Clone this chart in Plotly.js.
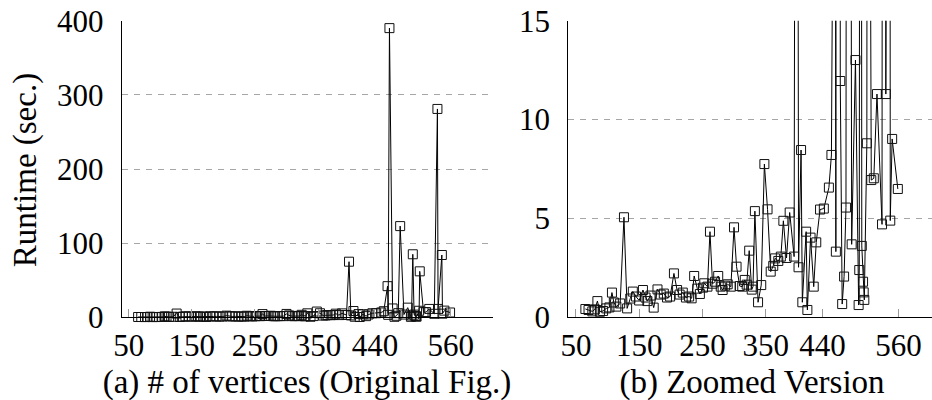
<!DOCTYPE html>
<html>
<head>
<meta charset="utf-8">
<script src="https://cdn.plot.ly/plotly-3.0.1.min.js"></script>
<style>
  html, body { margin: 0; padding: 0; background: #ffffff; }
  #wrap { position: relative; width: 932px; height: 400px; }
  #chart { position: absolute; left: 0; top: 0; width: 932px; height: 400px; }
  .cap { position: absolute; font-family: "Liberation Serif"; font-size: 33px; color: #000; white-space: nowrap; line-height: 1; }
</style>
</head>
<body>
<div id="wrap">
  <div id="chart"></div>
  <div class="cap" id="ylab"></div>
  <div class="cap" id="capA"></div>
  <div class="cap" id="capB"></div>
</div>
<script>
// Number of vertices (x) and runtime in seconds (y)
const vertices = [65, 70, 76, 80, 84, 88, 93, 98, 103, 107, 110, 114, 120, 126, 131, 136, 140, 145, 150, 156,
  160, 163, 168, 173, 179, 184, 189, 194, 199, 205, 210, 214, 219, 224, 229, 233, 237, 242, 246, 251,
  253, 258, 262, 266, 270, 275, 279, 282, 286, 290, 295, 300, 304, 309, 313, 317, 320, 324, 328, 330,
  333, 338, 343, 348, 353, 358, 362, 365, 370, 374, 378, 383, 388, 395, 399, 402, 406, 408, 414, 416,
  421, 426, 430, 436, 442, 450, 454, 460, 461, 463, 468, 471, 474, 477, 480, 486, 492, 497, 498, 500,
  502, 504, 505, 506, 510, 511, 517, 521, 526, 534, 539, 540, 546, 547, 550, 559];
const runtime = [0.42, 0.37, 0.30, 0.40, 0.82, 0.28, 0.32, 0.45, 0.50, 1.25, 0.75, 0.54, 0.70, 5.06, 0.45, 0.95, 1.30, 1.05, 0.85, 1.38,
  1.00, 0.82, 1.10, 0.49, 1.41, 1.15, 1.20, 1.00, 1.05, 2.22, 1.38, 1.15, 1.25, 1.00, 1.05, 0.96, 2.09, 1.45, 1.18, 1.50,
  1.72, 1.55, 4.33, 1.70, 1.80, 2.09, 1.55, 1.38, 1.60, 1.67, 1.55, 4.55, 2.56, 1.58, 1.55, 1.89, 1.65, 3.37, 1.40, 1.55,
  5.37, 0.76, 1.63, 7.75, 5.46, 2.31, 2.60, 2.98, 2.85, 3.07, 4.88, 3.00, 5.30, 3.07, 75, 2.53, 8.46, 0.76, 4.33, 0.37,
  4.03, 1.55, 3.79, 5.45, 5.50, 6.56, 8.21, 42, 3.32, 390, 11.95, 0.67, 2.06, 5.55, 123, 3.69, 13.01, 0.62, 2.39, 85,
  3.61, 1.80, 1.26, 0.88, 8.80, 62, 6.94, 7.03, 11.29, 4.70, 281, 11.29, 84, 4.89, 9.02, 6.49];

const xTicks = [50, 150, 250, 350, 440, 560];
const yTicksFull = [0, 100, 200, 300, 400];
const yTicksZoom = [0, 5, 10, 15];

const yLabel = 'Runtime (sec.)';
const captionA = '(a) # of vertices (Original Fig.)';
const captionB = '(b) Zoomed Version';

const W = 932, H = 400;

// Text labels placed as HTML in the serif face
function placeCap(id, text, cx, cy, rotate) {
  const el = document.getElementById(id);
  el.textContent = text;
  el.style.left = cx + 'px';
  el.style.top = cy + 'px';
  el.style.transform = 'translate(-50%, -50%)' + (rotate ? ' rotate(-90deg)' : '');
}
placeCap('ylab', yLabel, 25, 170, true);
placeCap('capA', captionA, 307, 382, false);
placeCap('capB', captionB, 752, 382, false);

function trace(xa, ya) {
  return {
    x: vertices, y: runtime, xaxis: xa, yaxis: ya,
    type: 'scatter', mode: 'lines+markers', cliponaxis: false,
    line: { color: '#000000', width: 1 },
    marker: { symbol: 'square-open', size: 9, color: '#111111', line: { width: 1, color: '#111111' } },
    hoverinfo: 'skip'
  };
}

const ydom = [1 - 317.3 / H, 1 - 20.7 / H];

function xaxisCfg(dom, range, anchor) {
  return {
    domain: dom, range: range, anchor: anchor,
    tickmode: 'array', tickvals: xTicks, ticktext: xTicks.map(String),
    ticks: 'inside', ticklen: 8, tickwidth: 1, tickcolor: '#9a9a9a',
    showline: true, linecolor: '#000000', linewidth: 1,
    showgrid: false, zeroline: false, automargin: false,
    tickfont: { family: 'Liberation Serif', size: 31, color: '#000000' }
  };
}
function yaxisCfg(range, ticks, anchor) {
  return {
    domain: ydom, range: range, anchor: anchor,
    tickmode: 'array', tickvals: ticks, ticktext: ticks.map(String),
    ticks: '', showline: true, linecolor: '#000000', linewidth: 1,
    showgrid: true, gridcolor: '#a6a6a6', gridwidth: 1, griddash: '6px,6px',
    zeroline: false, automargin: false,
    ticklabelstandoff: 11,
    tickfont: { family: 'Liberation Serif', size: 31, color: '#000000' }
  };
}

const layout = {
  width: W, height: H,
  margin: { l: 0, r: 0, t: 0, b: 0, pad: 0 },
  paper_bgcolor: 'rgba(0,0,0,0)', plot_bgcolor: 'rgba(0,0,0,0)',
  showlegend: false,
  font: { family: 'Liberation Serif', size: 31, color: '#000000' },
  xaxis: xaxisCfg([121.7 / W, 493 / W], [39, 627], 'y'),
  yaxis: yaxisCfg([0, 400], yTicksFull, 'x'),
  xaxis2: xaxisCfg([568.3 / W, 1], [38, 613], 'y2'),
  yaxis2: yaxisCfg([0, 15], yTicksZoom, 'x2')
};

Plotly.newPlot('chart', [trace('x', 'y'), trace('x2', 'y2')], layout, { displayModeBar: false });
</script>
</body>
</html>
